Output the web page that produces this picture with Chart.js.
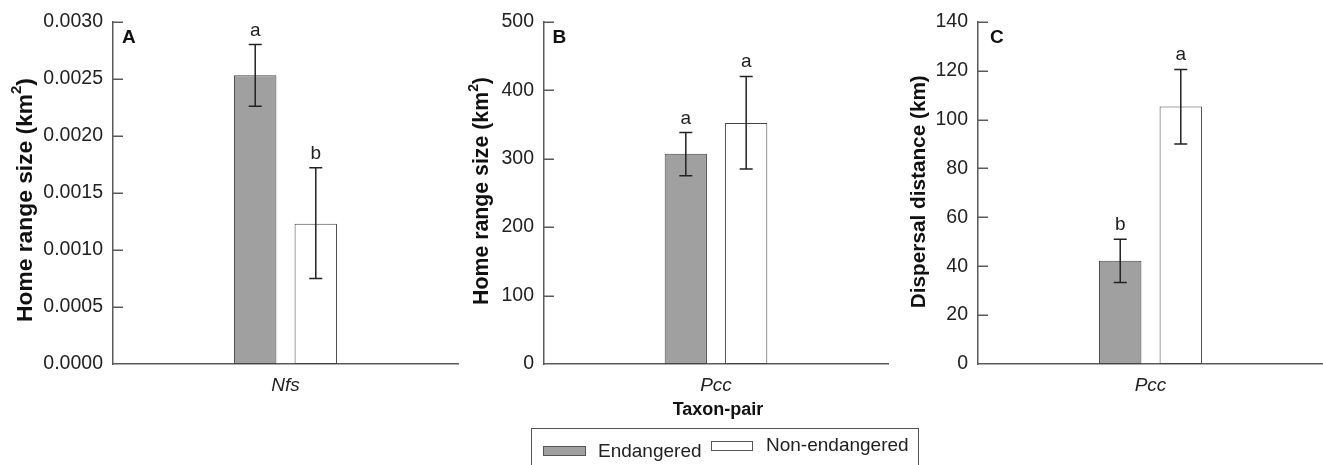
<!DOCTYPE html>
<html><head><meta charset="utf-8">
<script src="https://cdn.jsdelivr.net/npm/chart.js@4.4.1/dist/chart.umd.min.js"></script>
<style>
html,body{margin:0;padding:0;background:#fff;}
body{width:1323px;height:465px;overflow:hidden;position:relative;font-family:"Liberation Sans",Arial,Helvetica,sans-serif;color:#222;}
canvas{position:absolute;top:0;}
.lg{position:absolute;font-size:19px;line-height:19px;white-space:nowrap;color:#222;}
.sw{position:absolute;box-sizing:border-box;border:1px solid #555;}
</style></head><body>
<canvas id="cA" width="460" height="465" style="left:0;width:460px;height:465px"></canvas>
<canvas id="cB" width="430" height="465" style="left:460px;width:430px;height:465px"></canvas>
<canvas id="cC" width="433" height="465" style="left:890px;width:433px;height:465px"></canvas>

<div style="position:absolute;left:531px;top:428px;width:388px;height:60px;box-sizing:border-box;border:1.5px solid #555;"></div>
<div class="sw" style="left:543px;top:446px;width:43px;height:10px;background:#a0a0a0;"></div>
<div class="lg" style="left:598px;top:441px;">Endangered</div>
<div class="sw" style="left:711px;top:441px;width:42px;height:10px;background:#fff;"></div>
<div class="lg" style="left:766px;top:435px;">Non-endangered</div>

<script>
// ---------------- DATA ----------------
const seriesNames = ['Endangered', 'Non-endangered'];

const categoriesA = ['Nfs'];
const endangeredA = [0.00253];
const endangeredA_hi = [0.00280];
const endangeredA_lo = [0.00226];
const nonEndangeredA = [0.00123];
const nonEndangeredA_hi = [0.00172];
const nonEndangeredA_lo = [0.00075];
const lettersA = ['a', 'b'];
const ticksA = [0, 0.0005, 0.0010, 0.0015, 0.0020, 0.0025, 0.0030];
const tickLabelsA = ['0.0000', '0.0005', '0.0010', '0.0015', '0.0020', '0.0025', '0.0030'];

const categoriesB = ['Pcc'];
const endangeredB = [307];
const endangeredB_hi = [338];
const endangeredB_lo = [275];
const nonEndangeredB = [352];
const nonEndangeredB_hi = [420];
const nonEndangeredB_lo = [285];
const lettersB = ['a', 'a'];
const ticksB = [0, 100, 200, 300, 400, 500];
const tickLabelsB = ['0', '100', '200', '300', '400', '500'];

const categoriesC = ['Pcc'];
const endangeredC = [42.2];
const endangeredC_hi = [51];
const endangeredC_lo = [33.3];
const nonEndangeredC = [105.3];
const nonEndangeredC_hi = [120.5];
const nonEndangeredC_lo = [90];
const lettersC = ['b', 'a'];
const ticksC = [0, 20, 40, 60, 80, 100, 120, 140];
const tickLabelsC = ['0', '20', '40', '60', '80', '100', '120', '140'];

// ---------------- STYLE ----------------
const FONT = '"Liberation Sans", Arial, Helvetica, sans-serif';
const AXIS = '#5a5a5a';
const TEXT = '#222';
const GRAY = '#a0a0a0';
const EDGE = '#444';

function makePlugin(cfg) {
  return {
    id: 'panelDeco' + cfg.id,
    afterDatasetsDraw(chart) {
      const ctx = chart.ctx, y = chart.scales.y, ca = chart.chartArea;
      ctx.save();
      // inward ticks
      ctx.strokeStyle = AXIS; ctx.lineWidth = 1.5;
      cfg.ticks.forEach(v => {
        if (v === 0) return;
        const py = Math.round(y.getPixelForValue(v)) + 0.25;
        ctx.beginPath(); ctx.moveTo(ca.left, py); ctx.lineTo(ca.left + 10, py); ctx.stroke();
      });
      // error bars + letters
      chart.data.datasets.forEach((ds, i) => {
        const meta = chart.getDatasetMeta(i);
        meta.data.forEach((bar, j) => {
          const px = bar.x;
          const pHi = y.getPixelForValue(ds.errHi[j]);
          const pLo = y.getPixelForValue(ds.errLo[j]);
          ctx.strokeStyle = '#222'; ctx.lineWidth = 1.5;
          ctx.beginPath();
          ctx.moveTo(px, pHi); ctx.lineTo(px, pLo);
          ctx.moveTo(px - 6.5, pHi); ctx.lineTo(px + 6.5, pHi);
          ctx.moveTo(px - 6.5, pLo); ctx.lineTo(px + 6.5, pLo);
          ctx.stroke();
          ctx.fillStyle = TEXT;
          ctx.font = '19px ' + FONT;
          ctx.textAlign = 'center'; ctx.textBaseline = 'alphabetic';
          ctx.fillText(cfg.letters[i], px, pHi - 9);
        });
      });
      // panel letter
      ctx.fillStyle = '#111';
      ctx.font = 'bold 19px ' + FONT;
      ctx.textAlign = 'left'; ctx.textBaseline = 'alphabetic';
      ctx.fillText(cfg.panel, cfg.panelX, cfg.panelY);
      // y-axis title (rotated) with optional superscript
      const parts = cfg.title;
      const base = 20;
      const measure = (sz) => {
        let w = 0;
        parts.forEach(p => {
          ctx.font = 'bold ' + (p.sup ? sz * 0.65 : sz) + 'px ' + FONT;
          w += ctx.measureText(p.t).width;
        });
        return w;
      };
      const w0 = measure(base);
      const sz = base * cfg.titleLen / w0;
      const total = measure(sz);
      ctx.translate(cfg.titleX, cfg.titleCY);
      ctx.rotate(-Math.PI / 2);
      let tx = -total / 2;
      ctx.textAlign = 'left'; ctx.textBaseline = 'alphabetic';
      parts.forEach(p => {
        ctx.font = 'bold ' + (p.sup ? sz * 0.65 : sz) + 'px ' + FONT;
        ctx.fillText(p.t, tx, p.sup ? -sz * 0.45 : 0);
        tx += ctx.measureText(p.t).width;
      });
      ctx.setTransform(1, 0, 0, 1, 0, 0);
      ctx.restore();
      ctx.save();
      if (cfg.xTitle) {
        ctx.fillStyle = '#111';
        ctx.font = 'bold 18px ' + FONT;
        ctx.textAlign = 'center'; ctx.textBaseline = 'alphabetic';
        ctx.fillText(cfg.xTitle, cfg.xTitleX, cfg.xTitleY);
      }
      ctx.restore();
    }
  };
}

function makePanel(canvasId, cfg) {
  const ctx = document.getElementById(canvasId).getContext('2d');
  return new Chart(ctx, {
    type: 'bar',
    data: {
      labels: cfg.labels,
      datasets: [
        { label: seriesNames[0], data: cfg.e, errHi: cfg.eHi, errLo: cfg.eLo,
          backgroundColor: GRAY, borderColor: EDGE, borderWidth: 1, borderSkipped: false,
          categoryPercentage: 0.351, barPercentage: 0.70 },
        { label: seriesNames[1], data: cfg.n, errHi: cfg.nHi, errLo: cfg.nLo,
          backgroundColor: '#ffffff', borderColor: EDGE, borderWidth: 1, borderSkipped: false,
          categoryPercentage: 0.351, barPercentage: 0.70 }
      ]
    },
    options: {
      responsive: false,
      animation: false,
      devicePixelRatio: 1,
      layout: { padding: { top: 19, right: cfg.rightPad, left: 0, bottom: 0 } },
      plugins: { legend: { display: false }, tooltip: { enabled: false } },
      scales: {
        x: {
          type: 'category',
          grid: { display: false, drawTicks: false },
          border: { display: true, color: AXIS, width: 1.5 },
          ticks: { color: TEXT, padding: 10, font: { family: FONT, size: 19, style: 'italic' } },
          afterFit(s) { s.height = 101; }
        },
        y: {
          min: 0, max: cfg.ticks[cfg.ticks.length - 1],
          grid: { display: false, drawTicks: false },
          border: { display: true, color: AXIS, width: 1.5 },
          ticks: {
            color: TEXT, padding: 10, font: { family: FONT, size: 19.5 },
            callback: (v) => { const k = cfg.ticks.findIndex(t => Math.abs(t - v) < 1e-9); return k >= 0 ? cfg.tickLabels[k] : ''; }
          },
          afterBuildTicks(s) { s.ticks = cfg.ticks.map(v => ({ value: v })); },
          afterFit(s) { s.width = cfg.yWidth; }
        }
      }
    },
    plugins: [makePlugin(cfg)]
  });
}

makePanel('cA', {
  id: 'A', labels: categoriesA,
  e: endangeredA, eHi: endangeredA_hi, eLo: endangeredA_lo,
  n: nonEndangeredA, nHi: nonEndangeredA_hi, nLo: nonEndangeredA_lo,
  letters: lettersA, ticks: ticksA, tickLabels: tickLabelsA,
  yWidth: 113, rightPad: 2,
  panel: 'A', panelX: 122, panelY: 43,
  title: [{ t: 'Home range size (km' }, { t: '2', sup: true }, { t: ')' }],
  titleX: 31.5, titleCY: 200, titleLen: 244
});
makePanel('cB', {
  id: 'B', labels: categoriesB,
  e: endangeredB, eHi: endangeredB_hi, eLo: endangeredB_lo,
  n: nonEndangeredB, nHi: nonEndangeredB_hi, nLo: nonEndangeredB_lo,
  letters: lettersB, ticks: ticksB, tickLabels: tickLabelsB,
  yWidth: 84, rightPad: 2,
  panel: 'B', panelX: 92.5, panelY: 42.5,
  title: [{ t: 'Home range size (km' }, { t: '2', sup: true }, { t: ')' }],
  titleX: 28, titleCY: 191, titleLen: 228,
  xTitle: 'Taxon-pair', xTitleX: 258, xTitleY: 415
});
makePanel('cC', {
  id: 'C', labels: categoriesC,
  e: endangeredC, eHi: endangeredC_hi, eLo: endangeredC_lo,
  n: nonEndangeredC, nHi: nonEndangeredC_hi, nLo: nonEndangeredC_lo,
  letters: lettersC, ticks: ticksC, tickLabels: tickLabelsC,
  yWidth: 88, rightPad: 0,
  panel: 'C', panelX: 100, panelY: 42.5,
  title: [{ t: 'Dispersal distance (km)' }],
  titleX: 35, titleCY: 191.7, titleLen: 233
});
</script>
</body></html>
